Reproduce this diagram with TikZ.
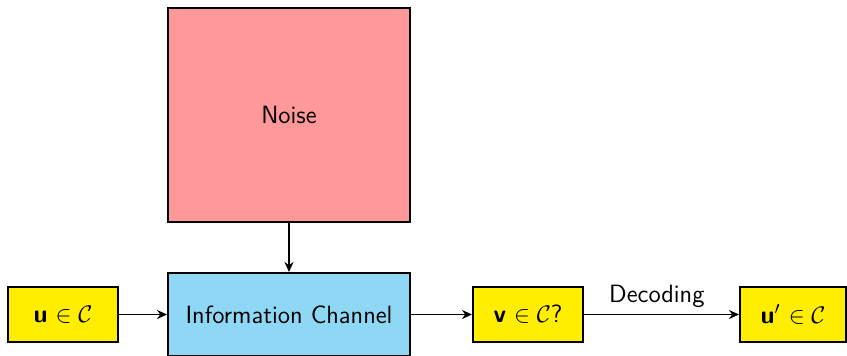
\documentclass[tikz,border=0pt]{standalone}
\usepackage{amssymb}
\usetikzlibrary{arrows.meta}
\definecolor{noisefill}{HTML}{FF9999}
\definecolor{chanfill}{HTML}{8ED8F6}
\definecolor{wordfill}{HTML}{FFEE00}
\begin{document}
\begin{tikzpicture}[x=0.5pt,y=-0.5pt,
  font=\sffamily\fontsize{12.5}{15}\selectfont,
  block/.style={draw=black,line width=1pt,inner sep=0pt,align=center},
  wordbox/.style={block,fill=wordfill,minimum width=55pt,minimum height=27.5pt},
  link/.style={line width=0.9pt,-{Stealth[length=5pt,width=4.5pt]}}]
  \useasboundingbox (0,0) rectangle (847,355);
  % main blocks
  \node[block,fill=noisefill,minimum width=121pt,minimum height=107pt] (noise) at (289,115) {Noise};
  \node[block,fill=chanfill,minimum width=121pt,minimum height=41.5pt] (chan) at (289,314.5) {Information Channel};
  % code words
  \node[wordbox] (u) at (63,314.5) {\textbf{u} $\in\mathcal{C}$};
  \node[wordbox] (v) at (528,314.5) {\textbf{v} $\in\mathcal{C}$?};
  \node[wordbox,minimum width=53pt] (up) at (793,314.5) {\textbf{u}$'$ $\in\mathcal{C}$};
  % connectors
  \draw[link] (noise.south) -- (chan.north);
  \draw[link] (u.east) -- (chan.west);
  \draw[link] (chan.east) -- (v.west);
  \draw[link] (v.east) -- node[above,pos=0.47,inner sep=3pt] {Decoding} (up.west);
\end{tikzpicture}
\end{document}
